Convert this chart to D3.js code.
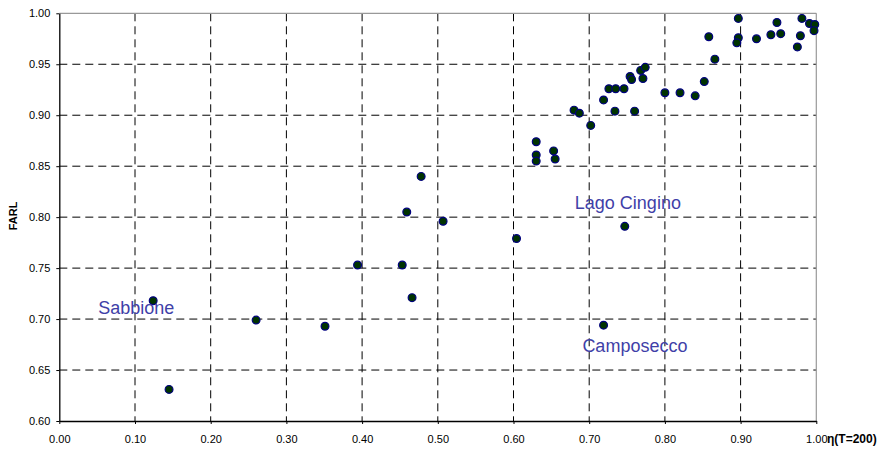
<!DOCTYPE html>
<html>
<head>
<meta charset="utf-8">
<script src="https://cdn.jsdelivr.net/npm/d3@7"></script>
<style>
body { margin: 0; background: #fff; }
text { font-family: Arial, "Liberation Sans", sans-serif; }
</style>
</head>
<body>
<svg id="chart" width="881" height="450"></svg>
<script>
// eta(T=200) vs FARL, one point per site
var etaVals = [0.124, 0.145, 0.260, 0.351, 0.394, 0.453, 0.466, 0.459, 0.507, 0.604,
	0.719, 0.747, 0.478, 0.630, 0.630, 0.630, 0.653, 0.655, 0.680, 0.687,
	0.702, 0.719, 0.726, 0.735, 0.746, 0.734, 0.754, 0.756, 0.760, 0.768,
	0.774, 0.771, 0.800, 0.820, 0.840, 0.852, 0.858, 0.866, 0.897, 0.897,
	0.895, 0.921, 0.940, 0.948, 0.953, 0.975, 0.981, 0.979, 0.991, 0.998, 0.997];
var farlVals = [0.718, 0.631, 0.699, 0.693, 0.753, 0.753, 0.721, 0.805, 0.796, 0.779,
	0.694, 0.791, 0.840, 0.874, 0.861, 0.855, 0.865, 0.857, 0.905, 0.902,
	0.890, 0.915, 0.926, 0.926, 0.926, 0.904, 0.938, 0.935, 0.904, 0.944,
	0.947, 0.936, 0.922, 0.922, 0.919, 0.933, 0.977, 0.955, 0.995, 0.976,
	0.971, 0.975, 0.979, 0.991, 0.980, 0.967, 0.995, 0.978, 0.990, 0.989, 0.983];

var xTicks = [0, 0.1, 0.2, 0.3, 0.4, 0.5, 0.6, 0.7, 0.8, 0.9, 1.0];
var yTicks = [0.60, 0.65, 0.70, 0.75, 0.80, 0.85, 0.90, 0.95, 1.00];

// annotation text, anchored in data units (left / baseline)
var noteText = ["Sabbione", "Lago Cingino", "Camposecco"];
var noteX = [0.0515, 0.681, 0.691];
var noteY = [0.705, 0.808, 0.668];

var svg = d3.select("#chart");
var pLeft = 59.3, pRight = 816.3, pTop = 13.3, pBottom = 421;

var x = d3.scaleLinear().domain([0, 1]).range([pLeft, pRight]);
var y = d3.scaleLinear().domain([0.6, 1]).range([pBottom, pTop]);

// grid
var grid = svg.append("g");
grid.selectAll(".hg").data(yTicks.slice(1, -1)).enter().append("line")
	.attr("x1", pLeft).attr("x2", pRight)
	.attr("y1", d => y(d)).attr("y2", d => y(d))
	.attr("stroke", "#000").attr("stroke-width", 1)
	.attr("stroke-dasharray", "8,5");
grid.selectAll(".vg").data(xTicks.slice(1, -1)).enter().append("line")
	.attr("x1", d => x(d)).attr("x2", d => x(d))
	.attr("y1", pTop).attr("y2", pBottom)
	.attr("stroke", "#000").attr("stroke-width", 1)
	.attr("stroke-dasharray", "8,5");

// top / right border in grey
svg.append("line").attr("x1", pLeft).attr("x2", pRight).attr("y1", pTop).attr("y2", pTop)
	.attr("stroke", "#999").attr("stroke-width", 1.2);
svg.append("line").attr("x1", pRight).attr("x2", pRight).attr("y1", pTop).attr("y2", pBottom)
	.attr("stroke", "#999").attr("stroke-width", 1.2);

// axes
var xAxis = svg.append("g").attr("transform", "translate(0," + pBottom + ")")
	.call(d3.axisBottom(x).tickValues(xTicks).tickFormat(d3.format(".2f")).tickSize(3).tickPadding(11).tickSizeOuter(0));
var yAxis = svg.append("g").attr("transform", "translate(" + pLeft + ",0)")
	.call(d3.axisLeft(y).tickValues(yTicks).tickFormat(d3.format(".2f")).tickSize(3).tickPadding(6).tickSizeOuter(0));
[xAxis, yAxis].forEach(function(a){
	a.select(".domain").attr("stroke", "#000").attr("stroke-width", 1.3);
	a.selectAll(".tick line").attr("stroke", "#000");
	a.selectAll("text").attr("font-size", 11).attr("fill", "#000")
		.attr("font-family", "Arial, 'Liberation Sans', sans-serif");
});

// axis titles
svg.append("text").attr("transform", "translate(17,216) rotate(-90)")
	.attr("text-anchor", "middle").attr("font-size", 11).attr("font-weight", "bold")
	.text("FARL");
svg.append("text").attr("x", 827).attr("y", 443)
	.attr("font-size", 12).attr("font-weight", "bold")
	.text("η(T=200)");

// points
svg.append("g").selectAll("circle").data(etaVals).enter().append("circle")
	.attr("cx", (d, i) => x(d))
	.attr("cy", (d, i) => y(farlVals[i]))
	.attr("r", 3.9)
	.attr("fill", "#003300")
	.attr("stroke", "#000080")
	.attr("stroke-width", 1.2);

// site labels
svg.append("g").selectAll("text").data(noteText).enter().append("text")
	.attr("x", (d, i) => x(noteX[i]))
	.attr("y", (d, i) => y(noteY[i]))
	.attr("font-size", 18)
	.attr("fill", "#3f3fa8")
	.text(d => d);
</script>
</body>
</html>
